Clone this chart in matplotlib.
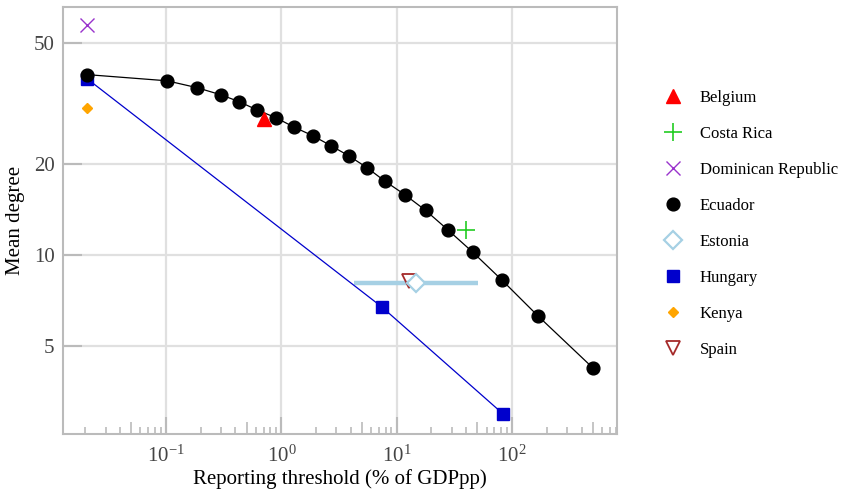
import matplotlib
matplotlib.use("Agg")
import matplotlib.pyplot as plt
from matplotlib.ticker import LogLocator, FixedLocator, NullFormatter, FixedFormatter
from matplotlib.lines import Line2D

plt.rcParams['font.family'] = ['Liberation Serif', 'DejaVu Serif']
plt.rcParams['mathtext.fontset'] = 'custom'
plt.rcParams['mathtext.rm'] = 'Liberation Serif'
plt.rcParams['axes.unicode_minus'] = False

# Data
ecuador_x = [0.0207, 0.102, 0.185, 0.30, 0.43, 0.61, 0.90, 1.28, 1.87, 2.69, 3.84, 5.5, 7.87,
             11.7, 17.8, 27.6, 45.5, 81, 166, 498]
ecuador_y = [39.3, 37.5, 35.6, 33.7, 32.0, 30.1, 28.3, 26.4, 24.7, 22.9, 21.2, 19.4, 17.5,
             15.8, 14.0, 12.1, 10.2, 8.27, 6.30, 4.24]
hungary_x = [0.0207, 7.4, 82.8]
hungary_y = [38.1, 6.73, 2.99]
belgium_x, belgium_y = [0.70], [28.1]
costa_x, costa_y = [39.5], [12.1]
dominican_x, dominican_y = [0.0207], [57.4]
kenya_x, kenya_y = [0.0207], [30.5]
estonia_x, estonia_y = [14.6], [8.09]
estonia_range = [4.3, 50.3]
spain_x, spain_y = [12.7], [8.2]
y_ticks = [5, 10, 20, 50]
y_ticklabels = ['5', '10', '20', '50']

fig = plt.figure(figsize=(8.44, 4.94), dpi=100)
ax = fig.add_axes([63/844, 1-434/494, (617-63)/844, (434-7)/494])

ax.set_xscale('log')
ax.set_yscale('log')
ax.set_xlim(0.0128, 811)
ax.set_ylim(2.56, 65.7)

# Estonia range line
ax.plot(estonia_range, [estonia_y[0]]*2, color='#a6d0e4', lw=3.2, zorder=2, solid_capstyle='butt')

ax.plot(hungary_x, hungary_y, color='#0000cc', lw=0.9, marker='s', ms=8.5,
        markeredgecolor='#0000cc', markerfacecolor='#0000cc', linestyle='-', label='Hungary', zorder=3)
ax.plot(ecuador_x, ecuador_y, color='black', lw=0.9, marker='o', ms=9.2, label='Ecuador', zorder=4)
ax.plot(belgium_x, belgium_y, linestyle='none', marker='^', ms=10, color='#ff0000', label='Belgium', zorder=5)
ax.plot(costa_x, costa_y, linestyle='none', marker='+', ms=13, mew=1.2, color='#22cc22', label='Costa Rica', zorder=5)
ax.plot(dominican_x, dominican_y, linestyle='none', marker='x', ms=10, mew=1.0, color='#9933cc', label='Dominican Republic', zorder=5)
ax.plot(kenya_x, kenya_y, linestyle='none', marker='D', ms=5.5, color='#ffa500', label='Kenya', zorder=5)
ax.plot(spain_x, spain_y, linestyle='none', marker='v', ms=10, mfc='none', mec='#a52a2a', mew=1.3, label='Spain', zorder=5)
ax.plot(estonia_x, estonia_y, linestyle='none', marker='D', ms=9, mfc='white', mec='#a6d0e4', mew=1.6, label='Estonia', zorder=6)

# Axes styling
for s in ax.spines.values():
    s.set_color('#bbbbbb')
    s.set_linewidth(1.5)
ax.grid(True, which='major', color='#e0e0e0', lw=1.6)
ax.set_axisbelow(True)

ax.xaxis.set_major_locator(LogLocator(base=10, numticks=20))
ax.xaxis.set_minor_locator(LogLocator(base=10, subs=[2, 3, 4, 6, 7, 8, 9], numticks=20))
ax.xaxis.set_minor_formatter(NullFormatter())
ax.yaxis.set_major_locator(FixedLocator(y_ticks))
ax.yaxis.set_major_formatter(FixedFormatter(y_ticklabels))
ax.yaxis.set_minor_locator(FixedLocator([]))

ax.tick_params(axis='x', which='major', direction='in', length=12, width=1.5, color='#bbbbbb',
               labelsize=15, labelcolor='#444444', pad=8)
ax.tick_params(axis='x', which='minor', direction='in', length=5, width=1.2, color='#bbbbbb')
ax.tick_params(axis='y', which='major', direction='in', length=14, width=1.5, color='#bbbbbb',
               labelsize=15, labelcolor='#444444', pad=6)

# taller half-decade (5x) ticks
ax2 = ax.twiny()
ax2.set_xscale('log')
ax2.set_xlim(ax.get_xlim())
ax2.xaxis.set_major_locator(LogLocator(base=10, subs=[5], numticks=20))
ax2.xaxis.set_minor_locator(FixedLocator([]))
ax2.tick_params(axis='x', which='major', direction='in', length=9, width=1.2, color='#bbbbbb',
                bottom=True, top=False, labelbottom=False, labeltop=False)
for s in ax2.spines.values():
    s.set_visible(False)

ax.set_xlabel('Reporting threshold (% of GDPpp)', fontsize=15, labelpad=2)
ax.set_ylabel('Mean degree', fontsize=15, labelpad=6)

handles, labels = ax.get_legend_handles_labels()
order = ['Belgium', 'Costa Rica', 'Dominican Republic', 'Ecuador', 'Estonia', 'Hungary', 'Kenya', 'Spain']
hmap = dict(zip(labels, handles))
leg_handles = []
for name in order:
    h = hmap[name]
    leg_handles.append(Line2D([], [], linestyle='none', marker=h.get_marker(), ms=h.get_markersize(),
                              mfc=h.get_markerfacecolor(), mec=h.get_markeredgecolor(),
                              mew=h.get_markeredgewidth()))
fig.legend(leg_handles, order, loc='upper left', bbox_to_anchor=(645/844, 1-75/494), frameon=False,
           fontsize=12, labelspacing=1.2, handletextpad=0.9, handlelength=1.5)

fig.savefig('out.png', dpi=100)
